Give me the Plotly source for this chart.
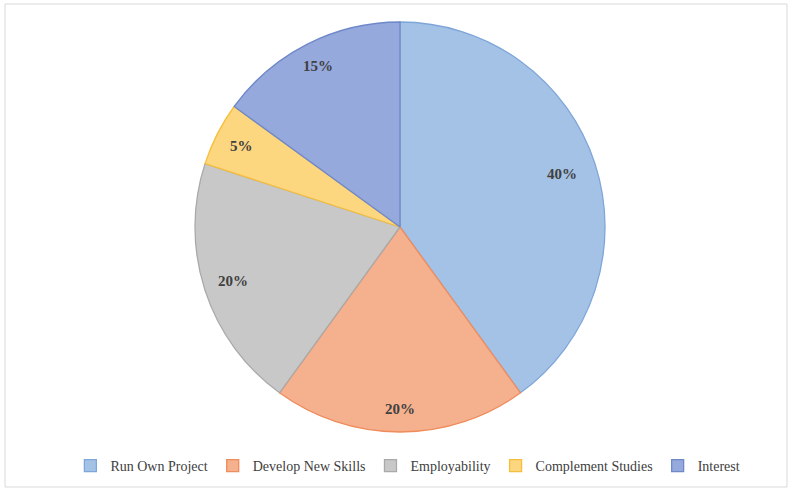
import math
import plotly.graph_objects as go

labels = ["Run Own Project", "Develop New Skills", "Employability", "Complement Studies", "Interest"]
values = [40, 20, 20, 5, 15]
fill_colors = ["#a4c2e6", "#f5b08e", "#c8c8c8", "#fdd680", "#95a9dc"]
line_colors = ["#7ea6d9", "#ef8c5c", "#a9a9a9", "#f5bf3c", "#6f88c8"]
label_radius = [0.83, 0.89, 0.855, 0.87, 0.88]  # label distance as a fraction of the radius

W, H = 792, 491
cx, cy, R = 400, 227, 205

fig = go.Figure(go.Pie(
    labels=labels,
    values=values,
    sort=False,
    direction="clockwise",
    rotation=0,
    marker=dict(colors=fill_colors, line=dict(color=line_colors, width=1.3)),
    textinfo="none",
    domain=dict(x=[(cx - R) / W, (cx + R) / W], y=[1 - (cy + R) / H, 1 - (cy - R) / H]),
    hoverinfo="label+percent",
))

total = sum(values)
annotations = []
cum = 0
for v, f in zip(values, label_radius):
    mid = (cum + v / 2) / total * 360  # degrees clockwise from 12 o'clock
    cum += v
    th = math.radians(90 - mid)
    px = cx + f * R * math.cos(th)
    py = cy - f * R * math.sin(th)
    annotations.append(dict(
        x=px / W, y=1 - py / H, xref="paper", yref="paper",
        xanchor="center", yanchor="middle",
        text=f"<b>{round(v / total * 100)}%</b>", showarrow=False,
        font=dict(family="Liberation Serif, serif", size=15, color="#404040"),
    ))

fig.update_layout(
    width=W, height=H,
    margin=dict(l=0, r=0, t=0, b=0),
    paper_bgcolor="white",
    showlegend=True,
    legend=dict(
        orientation="h", x=0.515, xanchor="center", y=1 - 466 / H, yanchor="middle",
        font=dict(family="Liberation Serif, serif", size=14, color="#404040"),
        itemwidth=30, tracegroupgap=0,
    ),
    annotations=annotations,
    shapes=[dict(type="rect", xref="paper", yref="paper",
                 x0=5 / W, x1=787 / W, y0=1 - 487 / H, y1=1 - 4 / H,
                 line=dict(color="#d9d9d9", width=1), fillcolor="rgba(0,0,0,0)")],
)

fig.write_html("out.html")
